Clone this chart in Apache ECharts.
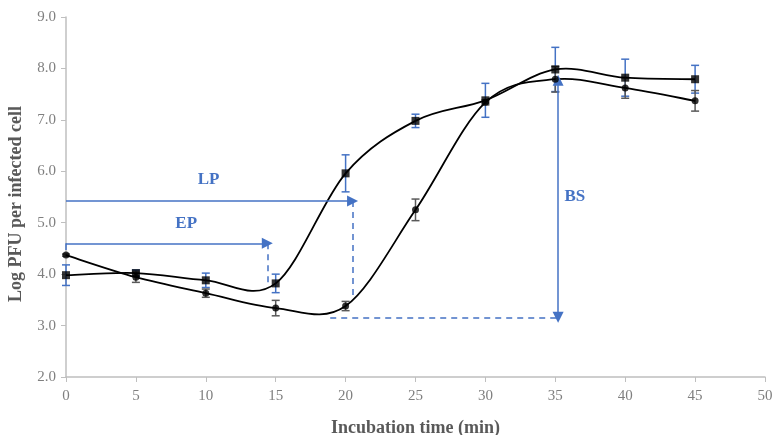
<!DOCTYPE html>
<html>
<head>
<meta charset="utf-8">
<script src="https://cdn.jsdelivr.net/npm/echarts@6/dist/echarts.min.js"></script>
<style>
  html, body { margin: 0; padding: 0; background: #fff; }
  #chart { width: 774px; height: 435px; }
</style>
</head>
<body>
<div id="chart"></div>
<script>
// time points (min)
const times = [0, 5, 10, 15, 20, 25, 30, 35, 40, 45];
// square series + error
const squareVals = [3.98, 4.02, 3.88, 3.82, 5.96, 6.98, 7.38, 7.98, 7.82, 7.79];
const squareErr = [0.2, 0.06, 0.14, 0.18, 0.36, 0.13, 0.33, 0.43, 0.36, 0.27];
// circle series + error
const circleVals = [4.37, 3.94, 3.63, 3.34, 3.38, 5.25, 7.34, 7.79, 7.62, 7.37];
const circleErr = [0.02, 0.1, 0.08, 0.15, 0.09, 0.21, 0.05, 0.25, 0.2, 0.2];

// annotation positions (data units)
const epArrow = [[0, 4.6], [14.4, 4.6]];
const epDrop = [[14.4, 4.6], [14.4, 3.82]];
const epTick = [[0, 4.6], [0, 4.47]];
const lpArrow = [[0, 5.42], [20.5, 5.42]];
const lpDrop = [[20.5, 5.42], [20.5, 3.55]];
const bsBase = [[18.9, 3.16], [35.2, 3.16]];
const bsArrow = [[35.2, 3.16], [35.2, 7.77]];
const labels = [
  { name: "EP", coord: [8.6, 4.99] },
  { name: "LP", coord: [10.2, 5.83] },
  { name: "BS", coord: [36.4, 5.5] }
];

const blue = "#4472c4";
const serif = "Liberation Serif";

function pairs(vals) {
  return times.map((t, i) => [t, vals[i]]);
}
function errData(vals, errs) {
  return times.map((t, i) => [t, vals[i] - errs[i], vals[i] + errs[i]]);
}
function errSeries(vals, errs, color) {
  return {
    type: "custom",
    data: errData(vals, errs),
    z: 3,
    renderItem: function(params, api) {
      const lo = api.coord([api.value(0), api.value(1)]);
      const hi = api.coord([api.value(0), api.value(2)]);
      const w = 4;
      const st = { stroke: color, lineWidth: 1.5 };
      return {
        type: "group",
        children: [
          { type: "line", shape: { x1: lo[0], y1: lo[1], x2: hi[0], y2: hi[1] }, style: st },
          { type: "line", shape: { x1: lo[0] - w, y1: lo[1], x2: lo[0] + w, y2: lo[1] }, style: st },
          { type: "line", shape: { x1: hi[0] - w, y1: hi[1], x2: hi[0] + w, y2: hi[1] }, style: st }
        ]
      };
    }
  };
}
// spreadsheet-style smoothed line (catmull-rom segments)
function curveSeries(vals) {
  const d = pairs(vals);
  return {
    type: "custom",
    data: d,
    z: 4,
    silent: true,
    renderItem: function(params, api) {
      const i = params.dataIndex;
      if (i >= d.length - 1) return null;
      const p = k => api.coord(d[Math.max(0, Math.min(d.length - 1, k))]);
      const p0 = p(i - 1), p1 = p(i), p2 = p(i + 1), p3 = p(i + 2);
      return {
        type: "bezierCurve",
        shape: {
          x1: p1[0], y1: p1[1],
          x2: p2[0], y2: p2[1],
          cpx1: p1[0] + (p2[0] - p0[0]) / 6,
          cpy1: p1[1] + (p2[1] - p0[1]) / 6,
          cpx2: p2[0] - (p3[0] - p1[0]) / 6,
          cpy2: p2[1] - (p3[1] - p1[1]) / 6
        },
        style: { stroke: "#000", lineWidth: 1.8, fill: null }
      };
    }
  };
}
function seg(pts, opts) {
  return [
    { coord: pts[0], symbol: opts.s0 || "none" },
    { coord: pts[1], symbol: opts.s1 || "none", lineStyle: opts.ls }
  ];
}

const solid = { color: blue, width: 1.5, type: "solid" };
const dashed = { color: blue, width: 1.5, type: [6, 5] };

const chart = echarts.init(document.getElementById("chart"));
chart.setOption({
  animation: false,
  grid: { left: 66, right: 9, top: 17, bottom: 58, outerBoundsMode: "none", containLabel: false },
  xAxis: {
    type: "value",
    min: 0,
    max: 50,
    interval: 5,
    name: "Incubation time (min)",
    nameLocation: "middle",
    nameGap: 42,
    nameTextStyle: { fontFamily: serif, fontSize: 18, fontWeight: "bold", color: "#595959" },
    axisLine: { lineStyle: { color: "#bfbfbf", width: 1.5 } },
    axisTick: { show: true, length: 5, lineStyle: { color: "#bfbfbf" } },
    axisLabel: { fontFamily: serif, fontSize: 15, color: "#7f7f7f", margin: 12 },
    splitLine: { show: false }
  },
  yAxis: {
    type: "value",
    min: 2,
    max: 9,
    interval: 1,
    name: "Log PFU per infected cell",
    nameLocation: "middle",
    nameGap: 41,
    nameTextStyle: {
      fontFamily: serif,
      fontSize: 18,
      fontWeight: "bold",
      color: "#595959",
      padding: [0, 14, 0, 0]
    },
    axisLine: { show: true, lineStyle: { color: "#bfbfbf", width: 1.5 } },
    axisTick: { show: true, length: 5, lineStyle: { color: "#bfbfbf" } },
    axisLabel: {
      fontFamily: serif,
      fontSize: 15,
      color: "#7f7f7f",
      margin: 10,
      formatter: v => v.toFixed(1)
    },
    splitLine: { show: false }
  },
  series: [
    errSeries(squareVals, squareErr, blue),
    errSeries(circleVals, circleErr, "#595959"),
    curveSeries(squareVals),
    curveSeries(circleVals),
    {
      type: "scatter",
      data: pairs(squareVals),
      symbol: "rect",
      symbolSize: 8,
      itemStyle: { color: "#000" },
      z: 5
    },
    {
      type: "scatter",
      data: pairs(circleVals),
      symbol: "circle",
      symbolSize: 7,
      itemStyle: { color: "#000" },
      z: 5
    },
    {
      type: "line",
      data: [],
      silent: true,
      markLine: {
        silent: true,
        animation: false,
        symbolSize: 11,
        label: { show: false },
        emphasis: { disabled: true },
        lineStyle: solid,
        data: [
          seg(epArrow, { s1: "triangle", ls: solid }),
          seg(epTick, { ls: solid }),
          seg(epDrop, { ls: dashed }),
          seg(lpArrow, { s1: "triangle", ls: solid }),
          seg(lpDrop, { ls: dashed }),
          seg(bsBase, { ls: dashed }),
          seg(bsArrow, { s0: "triangle", s1: "triangle", ls: solid })
        ]
      },
      markPoint: {
        silent: true,
        symbol: "circle",
        symbolSize: 0,
        label: {
          show: true,
          position: "inside",
          formatter: "{b}",
          fontFamily: serif,
          fontSize: 17,
          fontWeight: "bold",
          color: blue
        },
        data: labels
      }
    }
  ]
});
</script>
</body>
</html>
